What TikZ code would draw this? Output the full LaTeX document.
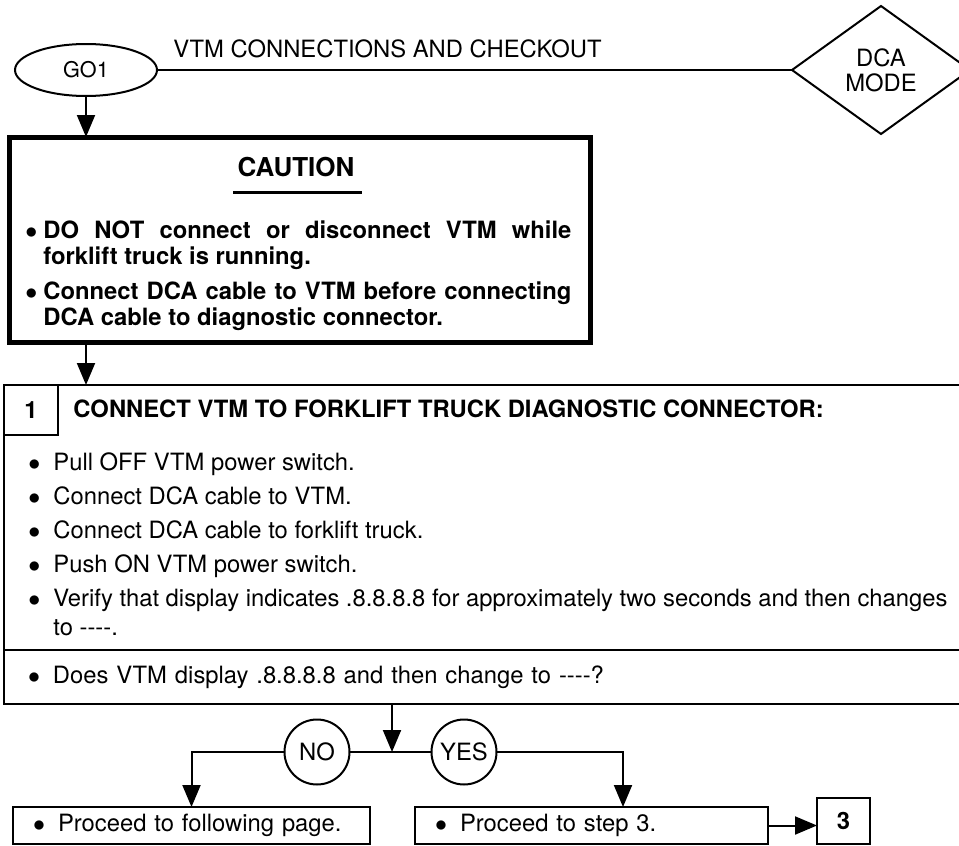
\documentclass[tikz,border=0pt]{standalone}
\usepackage{fontspec}
\setmainfont{TeX Gyre Heros}
\usetikzlibrary{arrows.meta,positioning,shapes.geometric}
\setlength{\parindent}{0pt}
\tikzset{
  wire/.style={line width=1pt},
  flow/.style={wire, -{Triangle[length=11pt,width=9pt]}},
  txt/.style={inner sep=0pt, font=\fontsize{11.9}{14}\selectfont},
  btxt/.style={inner sep=0pt, font=\fontsize{11.9}{13}\selectfont\bfseries},
  box/.style={draw, wire, outer sep=0pt, inner sep=0pt},
  cbul/.style={btxt, text width=264pt, align=justify,
    font=\fontsize{11.9}{13}\selectfont\bfseries\nohyph},
  sbox/.style={box, txt, text width=#1, inner xsep=10pt, align=left, minimum height=18.5pt},
}
\newcommand{\nohyph}{\hyphenpenalty=10000\relax\tolerance=10000\relax}
\newcommand{\bul}{\makebox[12.5pt][l]{$\bullet$}}
\newcommand{\cbl}{\llap{$\bullet$\hspace{3pt}}}
\newcommand{\dashes}{\mbox{-}\mbox{-}\mbox{-}\mbox{-}}

\begin{document}
\begin{tikzpicture}[x=0.5pt, y=-0.5pt]
    \useasboundingbox (0,0) rectangle (959,846);
    \node[box, ellipse, txt, font=\fontsize{10.8}{12}\selectfont, minimum width=71pt, minimum height=26pt] (go1) at (86,70) {GO1};
    \node[box, diamond, txt, font=\fontsize{11.9}{12.5}\selectfont, align=center, minimum width=89pt, minimum height=64pt] (dca) at (881,70) {DCA\\MODE};
    \node[txt, anchor=base west] (title) at (173,57) {VTM CONNECTIONS AND CHECKOUT};
    \draw[wire] (go1) -- (dca);
    % caution panel
    \node[box, line width=2.5pt, minimum width=290.5pt, minimum height=102.5pt] (caution) at (299.5,239.5) {};
    \node[btxt, font=\fontsize{13}{15}\selectfont\bfseries, anchor=base] (cau) at (296,176) {CAUTION};
    \draw[line width=1.5pt] (233,192) -- (362,192);
    \node[cbul, anchor=north west] (c1) at (43,220) {\cbl DO NOT connect or disconnect VTM while \mbox{forklift} truck is running.};
    \node[cbul, below=6pt of c1.south west, anchor=north west] (c2) {\cbl Connect DCA cable to VTM before \mbox{connecting} DCA cable to diagnostic connector.};
    \draw[flow] (go1) -- (go1 |- caution.north);
    % step 1
    \node[box, minimum width=485.5pt, minimum height=132.5pt, anchor=north west] (step) at (4,385) {};
    \node[box, txt, below=0pt of step, text width=461.5pt, inner xsep=12pt, align=left, minimum height=27pt] (ask) {\bul Does VTM display .8.8.8.8 and then change to \dashes?};
    \node[box, btxt, minimum width=27pt, minimum height=25pt, anchor=north west] (n1) at (step.north west) {1};
    \node[btxt, anchor=base west] (head) at (73,417) {CONNECT VTM TO FORKLIFT TRUCK DIAGNOSTIC CONNECTOR:};
    \foreach \t [count=\i] in {{Pull OFF VTM power switch.}, {Connect DCA cable to VTM.}, {Connect DCA cable to forklift truck.}, {Push ON VTM power switch.}, {Verify that display indicates .8.8.8.8 for approximately two seconds and then changes}}
      \node[txt, anchor=base west] (s\i) at (28, {436+34*\i}) {\bul\t};
    \node[txt, anchor=base west] (s6) at ([xshift=12.5pt, yshift=-14.5pt]s5.base west) {to \dashes.};
    \draw[flow] (caution.south -| go1) -- (step.north -| go1);
    % answer
    \coordinate (jn) at (392,752);
    \node[box, circle, txt, minimum size=32.5pt] (no) at (317,752) {NO};
    \node[box, circle, txt, minimum size=32.5pt] (yes) at (464,752) {YES};
    \node[sbox=158.5pt, anchor=north west] (nobox) at (13,807) {\bul Proceed to following page.};
    \node[sbox=156.5pt, anchor=north west] (yesbox) at (415,807) {\bul Proceed to step 3.};
    \node[box, btxt, minimum width=26.5pt, minimum height=23pt, anchor=north west] (s3) at (817,798) {3};
    \coordinate (yin) at (623,807);
    \draw[flow] (ask.south -| jn) -- (jn);
    \draw[wire] (no) -- (yes);
    \draw[flow] (no) -| (nobox);
    \draw[flow] (yes) -| (yesbox.north -| yin);
    \draw[flow] (yesbox.east) -- (yesbox.east -| s3.west);
  \end{tikzpicture}
\end{document}
